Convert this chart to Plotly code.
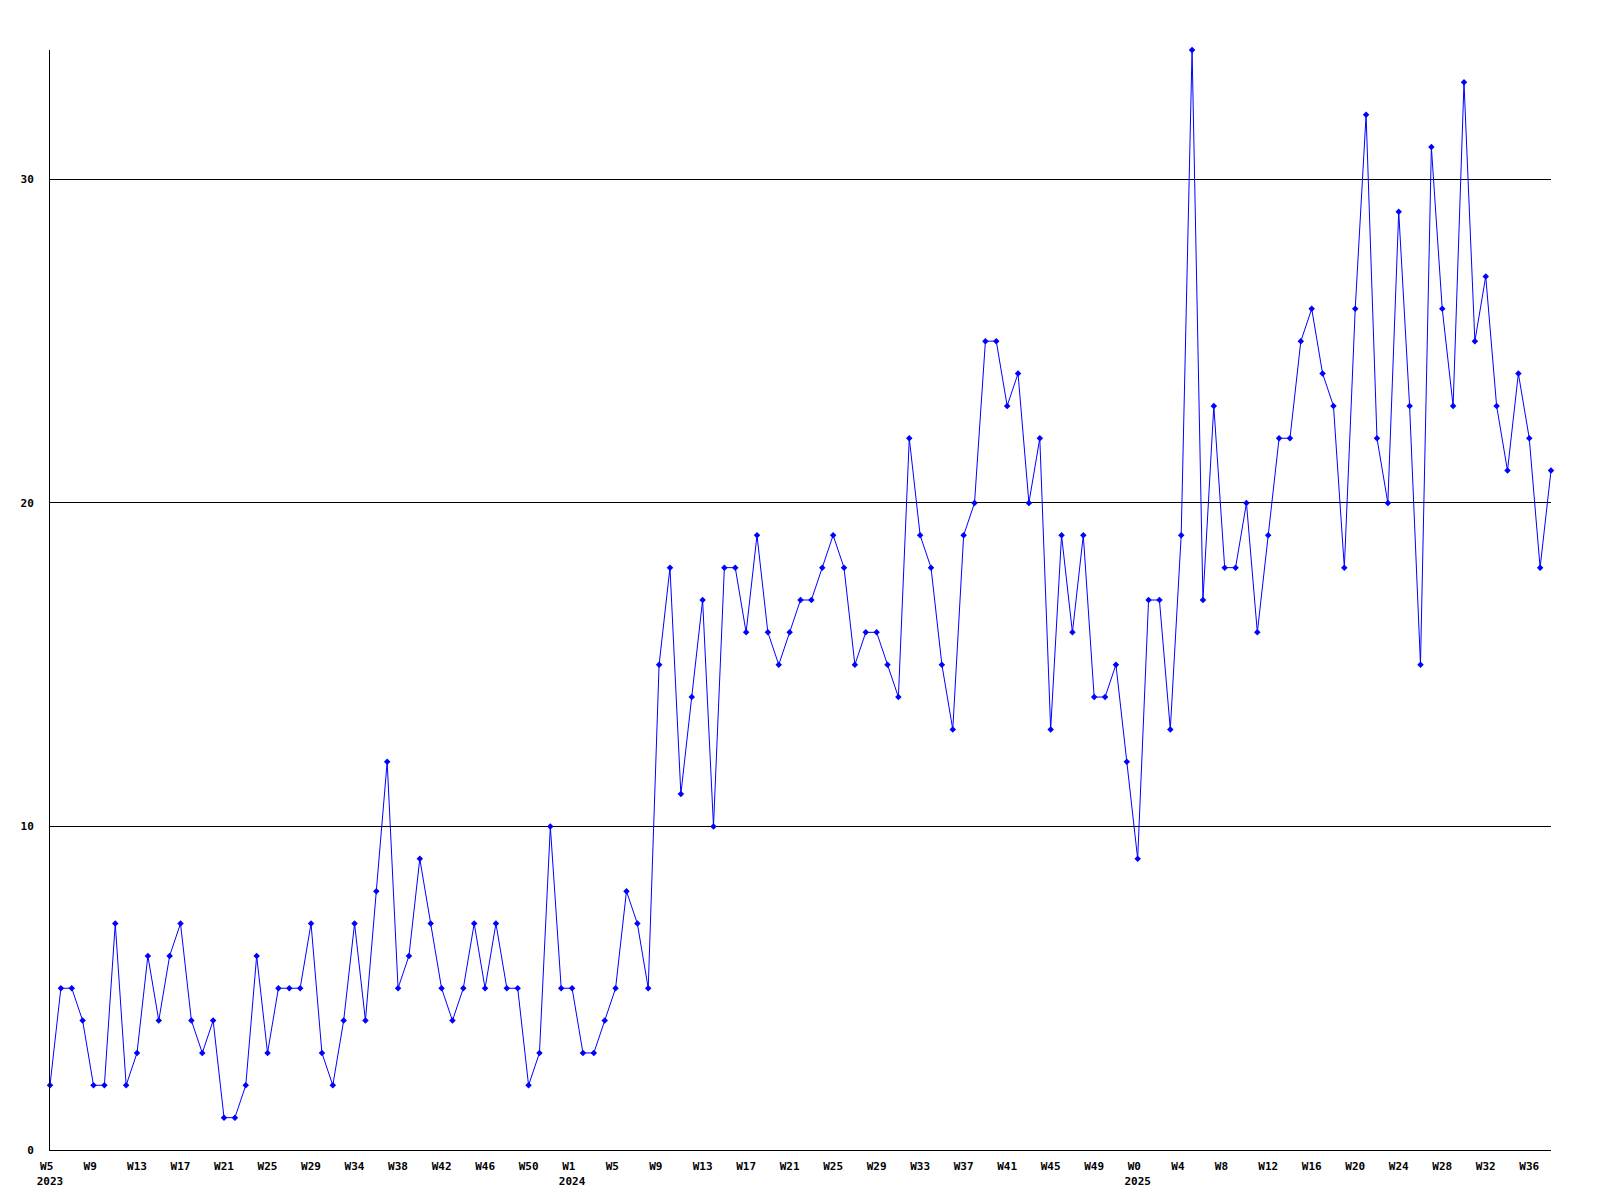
import plotly.graph_objects as go

# week numbers per year, as they appear on the x axis
weeks_2023 = list(range(5, 30)) + [30, 31, 32] + list(range(34, 54))
weeks_2024 = list(range(1, 53))
weeks_2025 = list(range(0, 39))

counts = [
    2, 5, 5, 4, 2, 2, 7, 2, 3, 6, 4, 6, 7, 4, 3, 4, 1, 1, 2, 6,
    3, 5, 5, 5, 7, 3, 2, 4, 7, 4, 8, 12, 5, 6, 9, 7, 5, 4, 5, 7,
    5, 7, 5, 5, 2, 3, 10, 5, 5, 3, 3, 4, 5, 8, 7, 5, 15, 18, 11, 14,
    17, 10, 18, 18, 16, 19, 16, 15, 16, 17, 17, 18, 19, 18, 15, 16, 16, 15, 14, 22,
    19, 18, 15, 13, 19, 20, 25, 25, 23, 24, 20, 22, 13, 19, 16, 19, 14, 14, 15, 12,
    9, 17, 17, 13, 19, 34, 17, 23, 18, 18, 20, 16, 19, 22, 22, 25, 26, 24, 23, 18,
    26, 32, 22, 20, 29, 23, 15, 31, 26, 23, 33, 25, 27, 23, 21, 24, 22, 18, 21,
]

# build category names and tick labels
categories = []
first_of_year = set()
for year, weeks in [(2023, weeks_2023), (2024, weeks_2024), (2025, weeks_2025)]:
    first_of_year.add(f'{year}-W{weeks[0]:02d}')
    for w in weeks:
        categories.append(f'{year}-W{w:02d}')

tickvals = categories[::4]
ticktext = []
for c in tickvals:
    year, w = c.split('-W')
    # pad to 3 chars so the labels sit a bit left of the point, like the original
    label = f'W{int(w)}'.ljust(3, '\u00a0')
    if c in first_of_year:
        label += f'<br>{year}'
    ticktext.append(label)

fig = go.Figure()

fig.add_trace(
    go.Scatter(x=categories,
               y=counts,
               mode='lines+markers',
               line=dict(color='#0000ff', width=1),
               marker=dict(symbol='diamond', size=5, color='#0000ff'),
               cliponaxis=False,
               showlegend=False,
               ),
    )

tick_font = dict(family='DejaVu Sans Mono', size=11, color='black', weight='bold')

# page body adds 8px, so margins are trimmed to match
fig.update_layout(
    width=1600,
    height=1200,
    margin=dict(l=42, r=57, t=42, b=58),
    plot_bgcolor='white',
    paper_bgcolor='white',
    xaxis=dict(type='category',
               categoryorder='array',
               categoryarray=categories,
               range=[0, len(categories) - 1],
               tickvals=tickvals,
               ticktext=ticktext,
               tickfont=tick_font,
               showgrid=False,
               showline=True,
               linecolor='black',
               linewidth=1,
               ticks='',
               ticklabelstandoff=6,
               zeroline=False),
    yaxis=dict(range=[0, 34],
               tickvals=[0, 10, 20, 30],
               tickfont=tick_font,
               showgrid=True,
               gridcolor='black',
               gridwidth=1,
               showline=True,
               linecolor='black',
               linewidth=1,
               ticks='',
               ticklabelstandoff=13,
               zeroline=False),
    )

fig.write_html("out.html")
